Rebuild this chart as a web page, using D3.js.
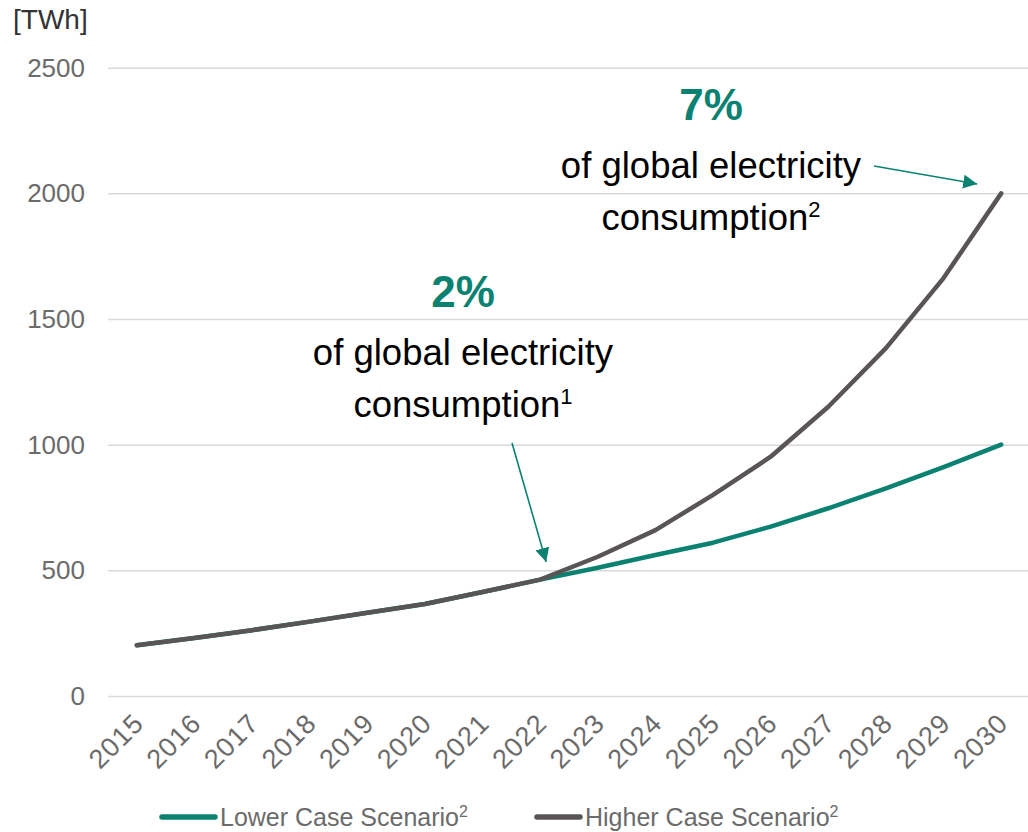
<!DOCTYPE html>
<html>
<head>
<meta charset="utf-8">
<script src="https://cdn.jsdelivr.net/npm/d3@7"></script>
<style>
  body { margin: 0; background: #fff; }
  svg { font-family: "Liberation Sans", Arial, sans-serif; }
</style>
</head>
<body>
<svg id="chart" width="1028" height="832"></svg>
<script>
const years = ['2015', '2016', '2017', '2018', '2019', '2020', '2021', '2022',
  '2023', '2024', '2025', '2026', '2027', '2028', '2029', '2030'];
const lowerCase = [202, 231, 262, 296, 331, 366, 414, 463, 510, 561, 610, 674, 747, 826, 911, 1000];
const higherCase = [202, 231, 262, 296, 331, 366, 414, 463, 554, 660, 800, 952, 1151, 1384, 1663, 2000];
const yTicks = [0, 500, 1000, 1500, 2000, 2500];
const seriesNames = ['Lower Case Scenario', 'Higher Case Scenario'];

const teal = '#0b8271';
const grey = '#595555';

let svg = d3.select('#chart');

let x = d3.scalePoint().domain(years).range([108, 1030]).padding(0.5);
let y = d3.scaleLinear().domain([0, 2500]).range([696, 67.7]);

// gridlines + y labels
let yAxis = d3.axisLeft(y).tickValues(yTicks).tickFormat(d3.format('d'))
  .tickSize(-(1030 - 108)).tickPadding(23);
let gy = svg.append('g').attr('transform', 'translate(108,0)').call(yAxis);
gy.select('.domain').remove();
gy.selectAll('line').attr('stroke', '#d9d9d9').attr('stroke-width', 1.5);
gy.selectAll('text').attr('fill', '#6b6b6b').style('font-size', '26px');

// x labels
let xAxis = d3.axisBottom(x).tickSize(0).tickPadding(0);
let gx = svg.append('g').attr('transform', 'translate(0,696)').call(xAxis);
gx.select('.domain').remove();
gx.selectAll('text')
  .attr('fill', '#6b6b6b')
  .style('font-size', '27px')
  .style('letter-spacing', '1px')
  .attr('text-anchor', 'end')
  .attr('dy', 0)
  .attr('y', 0)
  .attr('transform', 'translate(8,29) rotate(-45)');

// unit label
svg.append('text').attr('x', 13).attr('y', 29)
  .attr('fill', '#333').style('font-size', '28px').text('[TWh]');

let line = d3.line()
  .x(function (d, i) { return x(years[i]); })
  .y(function (d) { return y(d); });

svg.append('path').datum(lowerCase)
  .attr('d', line).attr('fill', 'none')
  .attr('stroke', teal).attr('stroke-width', 4.5)
  .attr('stroke-linecap', 'round').attr('stroke-linejoin', 'round');

svg.append('path').datum(higherCase)
  .attr('d', line).attr('fill', 'none')
  .attr('stroke', grey).attr('stroke-width', 4.5)
  .attr('stroke-linecap', 'round').attr('stroke-linejoin', 'round');

// arrows
let defs = svg.append('defs');
defs.append('marker').attr('id', 'arr')
  .attr('viewBox', '0 0 10 10').attr('refX', 10).attr('refY', 5)
  .attr('markerWidth', 14).attr('markerHeight', 14)
  .attr('markerUnits', 'userSpaceOnUse')
  .attr('orient', 'auto')
  .append('path').attr('d', 'M0,0 L10,5 L0,10 z').attr('fill', teal);

function arrow(x1, y1, x2, y2) {
  svg.append('line')
    .attr('x1', x1).attr('y1', y1).attr('x2', x2).attr('y2', y2)
    .attr('stroke', teal).attr('stroke-width', 1.6)
    .attr('marker-end', 'url(#arr)');
}

// annotations
function note(cx, y0, pct, sup) {
  svg.append('text').attr('x', cx).attr('y', y0)
    .attr('text-anchor', 'middle').attr('fill', teal)
    .style('font-size', '44px').style('font-weight', 'bold').text(pct);
  svg.append('text').attr('x', cx).attr('y', y0 + 58)
    .attr('text-anchor', 'middle').attr('fill', '#000')
    .style('font-size', '36.5px').text('of global electricity');
  let t = svg.append('text').attr('x', cx).attr('y', y0 + 110)
    .attr('text-anchor', 'middle').attr('fill', '#000')
    .style('font-size', '36.5px');
  t.append('tspan').text('consumption');
  t.append('tspan').attr('dy', -13).style('font-size', '22px').text(sup);
}

note(463, 307, '2%', '1');
arrow(512, 443, x('2022') + 6, 562);

note(711, 120, '7%', '2');
arrow(874, 166, x('2030') - 24, 184);

// legend
let legend = [
  { name: seriesNames[0], color: teal, x1: 162, x2: 215, tx: 220 },
  { name: seriesNames[1], color: grey, x1: 537, x2: 580, tx: 585 }
];
legend.forEach(function (d) {
  svg.append('line').attr('x1', d.x1).attr('x2', d.x2)
    .attr('y1', 817).attr('y2', 817)
    .attr('stroke', d.color).attr('stroke-width', 5.5)
    .attr('stroke-linecap', 'round');
  let t = svg.append('text').attr('x', d.tx).attr('y', 826)
    .attr('fill', '#6b6b6b').style('font-size', '25px');
  t.append('tspan').text(d.name);
  t.append('tspan').attr('dy', -9).style('font-size', '16px').text('2');
});
</script>
</body>
</html>
